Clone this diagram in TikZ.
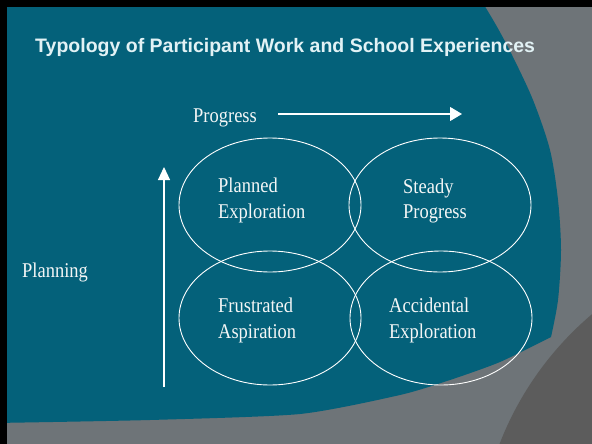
\documentclass[tikz,border=0pt]{standalone}
\usepackage{fontspec}
\setmainfont{Liberation Serif}
\newfontfamily\titlefont{Liberation Sans}
\newfontfamily\labelfont[FakeStretch=0.88]{Liberation Serif}
\usetikzlibrary{shapes.geometric,arrows.meta}

\definecolor{slateteal}{HTML}{04617A}
\definecolor{bandgray}{HTML}{6E7478}
\definecolor{darkgray}{HTML}{5C5C5C}
\definecolor{titletext}{HTML}{E2F2F5}
\definecolor{labeltext}{HTML}{F4F6F6}

\tikzset{
  label text/.style={anchor=base west, inner sep=0pt, text=labeltext,
    font=\labelfont\fontsize{21}{24}\selectfont},
  field/.style={ellipse, draw=white, line width=0.9pt,
    minimum width=182pt, minimum height=134pt, inner sep=0pt},
  axis/.style={draw=white, line width=1.1pt},
}

\begin{document}
\begin{tikzpicture}[x=1pt, y=-1pt]
  \useasboundingbox (0,0) rectangle (592,444);

  % backdrop: grey bands, dark corner, teal field
  \fill[bandgray] (0,0) rectangle (592,444);
  \begin{scope}
    \clip (0,0) rectangle (592,444);
    \fill[darkgray] (800,560) circle[radius=322pt];
    \fill[slateteal] (-5,-5) -- (478,-5)
      -- plot[smooth] coordinates {(478,-5) (496,25) (512,55) (533,100) (550,150) (558,200) (561,250) (558,300) (551,337)}
      -- plot[smooth, tension=0.4] coordinates {(551,337) (500,362) (450,380) (400,395) (300,414) (150,420) (-5,423)}
      -- cycle;
  \end{scope}
  \fill[black] (0,0) rectangle (592,7);
  \fill[black] (0,0) rectangle (7,444);

  % title
  \node[anchor=base west, inner sep=0pt, text=titletext,
        font=\titlefont\bfseries\fontsize{19.5}{22}\selectfont] (title) at (35,53)
        {Typology of Participant Work and School Experiences};

  % axes
  \node[label text] (progress) at (193,122) {Progress};
  \coordinate (hstart) at (278,114);
  \coordinate (hend) at (462,114);
  \draw[axis, -{Triangle[length=12pt, width=14pt]}] (hstart) -- (hend);

  \node[label text] (planning) at (22,277) {Planning};
  \coordinate (vstart) at (164,387);
  \coordinate (vend) at (164,167);
  \draw[axis, -{Triangle[length=13pt, width=12pt]}] (vstart) -- (vend);

  % four overlapping fields
  \node[field] (pe) at (270,205) {};
  \node[field] (sp) at (440,205) {};
  \node[field] (fa) at (270,318) {};
  \node[field] (ae) at (441,318) {};

  \node[label text] (pe1) at (218,192) {Planned};
  \node[label text] (pe2) at (218,218) {Exploration};
  \node[label text] (sp1) at (403,193) {Steady};
  \node[label text] (sp2) at (403,218) {Progress};
  \node[label text] (fa1) at (218,312) {Frustrated};
  \node[label text] (fa2) at (218,338) {Aspiration};
  \node[label text] (ae1) at (389,312) {Accidental};
  \node[label text] (ae2) at (389,338) {Exploration};
\end{tikzpicture}
\end{document}
